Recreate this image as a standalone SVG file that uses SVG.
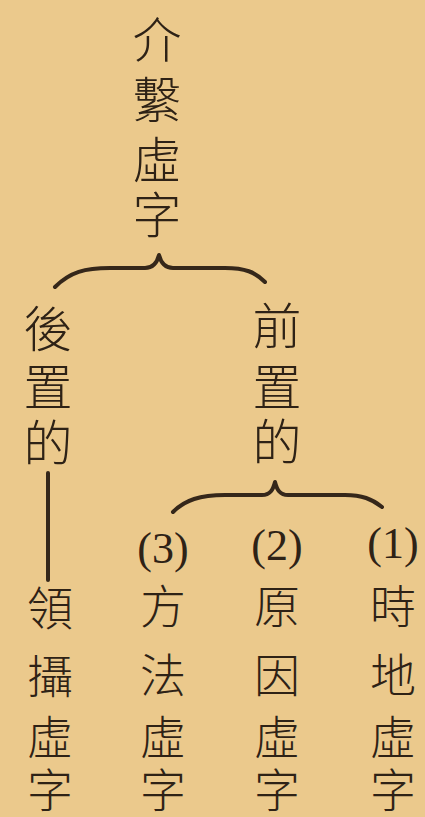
<svg xmlns="http://www.w3.org/2000/svg" width="425" height="817" viewBox="0 0 425 817">
<style>
.c{font-family:"Noto Sans CJK TC","Noto Sans CJK JP",sans-serif;font-size:49px;font-weight:300;fill:#2e2216;text-anchor:middle;dominant-baseline:central}
.s{font-size:46px}
.n{font-family:"Liberation Serif",serif;font-size:44px;fill:#2e2216;text-anchor:middle;dominant-baseline:central}
.b{fill:none;stroke:#35271a;stroke-width:4;stroke-linecap:round;stroke-linejoin:round}
</style>
<rect width="425" height="817" fill="#ebc98c"/>
<g id="root">
<text class="c" x="157" y="36">介</text>
<text class="c" x="157" y="96">繫</text>
<text class="c" x="157" y="156">虛</text>
<text class="c" x="157" y="211">字</text>
</g>
<g id="post">
<text class="c" x="48" y="325">後</text>
<text class="c" x="48" y="383">置</text>
<text class="c" x="48" y="439">的</text>
</g>
<g id="pre">
<text class="c" x="277" y="322">前</text>
<text class="c" x="277" y="383">置</text>
<text class="c" x="277" y="438">的</text>
</g>
<g id="lingshe">
<text class="c s" x="50" y="605">領</text>
<text class="c s" x="50" y="673">攝</text>
<text class="c s" x="50" y="734">虛</text>
<text class="c s" x="50" y="787">字</text>
</g>
<g id="fangfa">
<text class="n" x="163" y="548">(3)</text>
<text class="c s" x="163" y="603">方</text>
<text class="c s" x="163" y="672">法</text>
<text class="c s" x="163" y="734">虛</text>
<text class="c s" x="163" y="787">字</text>
</g>
<g id="yuanyin">
<text class="n" x="277" y="545">(2)</text>
<text class="c s" x="277" y="603">原</text>
<text class="c s" x="277" y="672">因</text>
<text class="c s" x="277" y="734">虛</text>
<text class="c s" x="277" y="787">字</text>
</g>
<g id="shidi">
<text class="n" x="393" y="543">(1)</text>
<text class="c s" x="393" y="603">時</text>
<text class="c s" x="393" y="672">地</text>
<text class="c s" x="393" y="734">虛</text>
<text class="c s" x="393" y="787">字</text>
</g>
<g id="connectors">
<path class="b" d="M55,287 C70,272 85,268 110,268 L145,268 C153,268 157,263 159,255 C161,263 165,268 173,268 L225,268 C245,268 255,272 265,282"/>
<path class="b" d="M173,512 C185,500 200,495 225,495 L262,495 C270,495 273,490 275,482 C277,490 280,495 288,495 L345,495 C362,495 372,499 382,507"/>
<path class="b" d="M48,473 L48,580" stroke-width="3"/>
</g>
</svg>
